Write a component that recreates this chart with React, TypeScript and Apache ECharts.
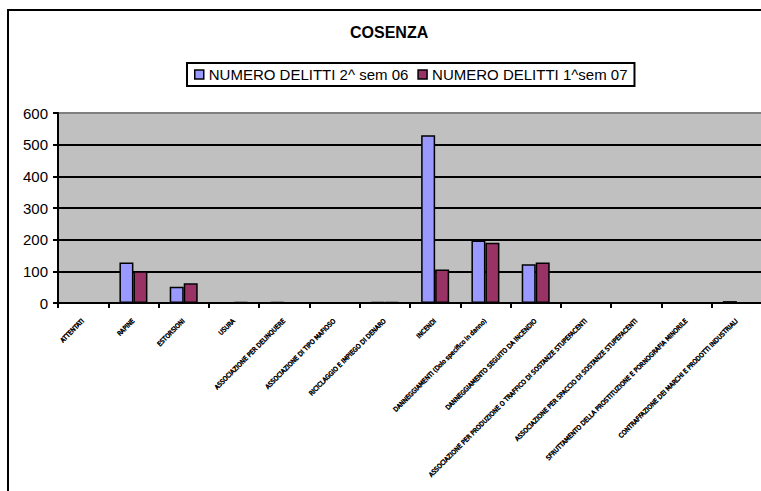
import React, { useEffect, useRef } from "react";
import * as echarts from "echarts";

const titleText = "COSENZA";
const seriesNames = ["NUMERO DELITTI 2^ sem 06", "NUMERO DELITTI 1^sem 07"];
const categories = [
  "ATTENTATI",
  "RAPINE",
  "ESTORSIONI",
  "USURA",
  "ASSOCIAZIONE PER DELINQUERE",
  "ASSOCIAZIONE DI TIPO MAFIOSO",
  "RICICLAGGIO E IMPIEGO DI DENARO",
  "INCENDI",
  "DANNEGGIAMENTI (Dolo specifico in danno)",
  "DANNEGGIAMENTO SEGUITO DA INCENDIO",
  "ASSOCIAZIONE PER PRODUZIONE O TRAFFICO DI SOSTANZE STUPEFACENTI",
  "ASSOCIAZIONE PER SPACCIO DI SOSTANZE STUPEFACENTI",
  "SFRUTTAMENTO DELLA PROSTITUZIONE E PORNOGRAFIA MINORILE",
  "CONTRAFFAZIONE DEI MARCHI E PRODOTTI INDUSTRIALI",
];
const sem2_06 = [0, 128, 51, 1, 3, 0, 3, 530, 197, 122, 0, 0, 0, 6];
const sem1_07 = [0, 100, 62, 3, 0, 0, 3, 106, 190, 128, 0, 0, 2, 0];
const yMin = 0;
const yMax = 600;
const yInterval = 100;

const FONT = "'Liberation Sans', Arial, sans-serif";

export default function App() {
  const ref = useRef<HTMLDivElement>(null);
  useEffect(() => {
    if (!ref.current) return;
    const chart = echarts.init(ref.current, undefined, { renderer: "svg" });
    chart.setOption({
      animation: false,
      backgroundColor: "#fff",
      graphic: [
        {
          type: "rect",
          z: -10,
          silent: true,
          shape: { x: 8, y: 10, width: 900, height: 900 },
          style: { fill: "none", stroke: "#000", lineWidth: 2 },
        },
      ],
      title: {
        text: titleText,
        left: 350,
        top: 24,
        padding: 0,
        textStyle: { fontFamily: FONT, fontWeight: "bold", fontSize: 16, color: "#000" },
      },
      legend: {
        left: 187,
        top: 63,
        padding: [4, 7, 4, 7],
        itemWidth: 9,
        itemHeight: 9,
        itemGap: 9,
        borderColor: "#000",
        borderWidth: 2,
        icon: "rect",
        itemStyle: { borderColor: "#000", borderWidth: 1.5 },
        textStyle: { fontFamily: FONT, fontSize: 15, color: "#000" },
        data: seriesNames,
      },
      grid: {
        left: 58,
        right: 38,
        top: 113,
        bottom: 227,
        show: true,
        backgroundColor: "#C0C0C0",
        borderColor: "#808080",
        borderWidth: 2,
      },
      xAxis: {
        type: "category",
        data: categories,
        axisLine: { lineStyle: { color: "#000", width: 2 } },
        axisTick: { show: true, length: 5, lineStyle: { color: "#000", width: 2 } },
        axisLabel: {
          interval: 0,
          rotate: 45,
          margin: 17,
          fontFamily: "'Liberation Sans Narrow', 'DejaVu Sans Condensed', sans-serif",
          fontSize: 6.5,
          color: "#000",
          textBorderColor: "#000",
          textBorderWidth: 0.45,
        },
      },
      yAxis: {
        type: "value",
        min: yMin,
        max: yMax,
        interval: yInterval,
        axisLine: { show: true, lineStyle: { color: "#000", width: 2 } },
        axisTick: { show: true, length: 5, lineStyle: { color: "#000", width: 2 } },
        axisLabel: { fontFamily: FONT, fontSize: 15, color: "#000", margin: 10 },
        splitLine: { show: true, showMaxLine: false, lineStyle: { color: "#000", width: 2 } },
      },
      series: [
        {
          name: seriesNames[0],
          type: "bar",
          data: sem2_06,
          barWidth: 14,
          barGap: "0%",
          itemStyle: { color: "#9999FF", borderColor: "#000", borderWidth: 1.5 },
        },
        {
          name: seriesNames[1],
          type: "bar",
          data: sem1_07,
          barWidth: 14,
          barGap: "0%",
          itemStyle: { color: "#993366", borderColor: "#000", borderWidth: 1.5 },
        },
      ],
    });
    return () => chart.dispose();
  }, []);
  return (
    <div
      style={{
        position: "fixed",
        left: 0,
        top: 0,
        width: 761,
        height: 491,
        overflow: "hidden",
        background: "#fff",
      }}
    >
      <div ref={ref} style={{ position: "absolute", left: 0, top: 0, width: 800, height: 530 }} />
    </div>
  );
}
